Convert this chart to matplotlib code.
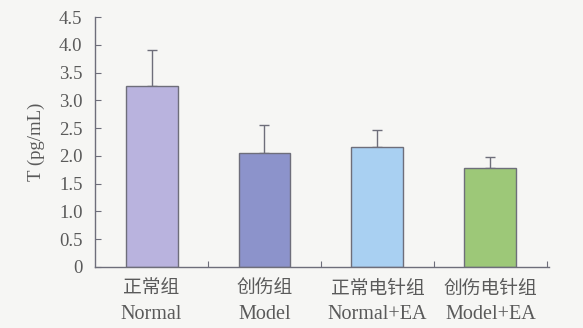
import matplotlib
matplotlib.use("Agg")
import matplotlib.pyplot as plt
import numpy as np

# T 含量 (pg/mL)
groups_cn = ["正常组", "创伤组", "正常电针组", "创伤电针组"]
groups_en = ["Normal", "Model", "Normal+EA", "Model+EA"]
means = [3.25, 2.05, 2.16, 1.79]
errors = [0.65, 0.50, 0.30, 0.19]
colors = ["#b9b3de", "#8c93cb", "#a9d0f2", "#9dc878"]

TEXT = "#5a5a5a"
EDGE = "#6e6e7a"
BG = "#f6f6f4"

fig = plt.figure(figsize=(5.83, 3.28), dpi=100, facecolor=BG)
ax = fig.add_axes([0.163, 0.186, 0.779, 0.762], facecolor=BG)

x = np.arange(len(means))
ax.bar(x, means, width=0.46, color=colors, edgecolor=EDGE, linewidth=1.0, zorder=2)
ax.errorbar(x, means, yerr=[np.zeros(len(errors)), errors], fmt="none",
            ecolor=EDGE, elinewidth=1.0, capsize=3.5, capthick=1.0, zorder=1)

ax.set_xlim(-0.5, len(means) - 0.5 + 0.02)
ax.set_ylim(0, 4.5)
yt = np.arange(0, 4.51, 0.5)
ax.set_yticks(yt)
ax.set_yticklabels(["0"] + [f"{v:.1f}" for v in yt[1:]],
                   family="Liberation Serif", fontsize=13.5, color=TEXT)
ax.tick_params(axis="y", direction="in", length=4, color=EDGE, pad=9)

# 分组边界上的刻度
ax.set_xticks(np.arange(0.5, len(means), 1.0))
ax.set_xticklabels([])
ax.tick_params(axis="x", direction="in", length=4, color=EDGE)

for i in x:
    ax.text(i, -0.38, groups_cn[i], ha="center", va="center", fontsize=13.5,
            family=["Noto Sans CJK SC", "DejaVu Sans"], fontweight="light",
            color=TEXT)
    ax.text(i, -0.86, groups_en[i], ha="center", va="center", fontsize=14.5,
            family="Liberation Serif", color=TEXT)

ax.set_ylabel("T (pg/mL)", family="Liberation Serif", fontsize=13.5,
              color=TEXT, labelpad=10)

for side in ["top", "right"]:
    ax.spines[side].set_visible(False)
for side in ["left", "bottom"]:
    ax.spines[side].set_color(EDGE)
    ax.spines[side].set_linewidth(1.0)

fig.savefig("out.png", dpi=100, facecolor=BG)
